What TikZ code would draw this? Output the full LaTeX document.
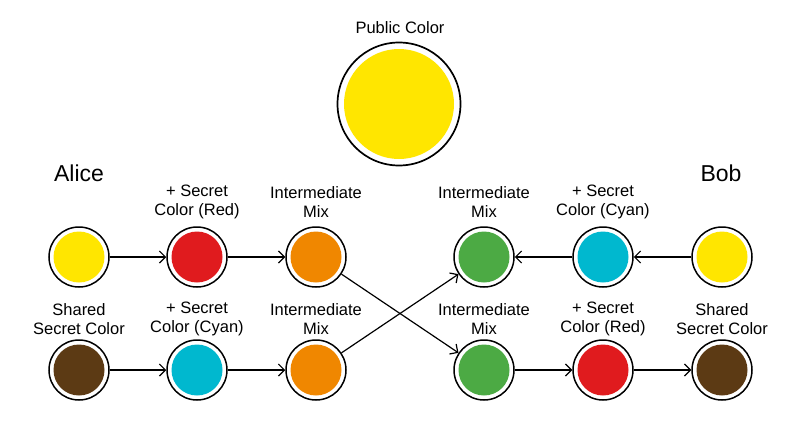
\documentclass[tikz,border=0pt]{standalone}
\usepackage{fontspec}
\setmainfont{Liberation Sans}
\usetikzlibrary{arrows.meta}
\definecolor{cyel}{HTML}{FFE600}
\definecolor{cred}{HTML}{E01B1E}
\definecolor{corg}{HTML}{F08700}
\definecolor{cgrn}{HTML}{4CAA44}
\definecolor{ccyn}{HTML}{00B8CF}
\definecolor{cbrn}{HTML}{5C3A14}
\begin{document}
\begin{tikzpicture}[x=1pt,y=-1pt,
  disc/.style={circle, draw=black, fill=white, line width=1.5pt, minimum size=60pt, inner sep=0pt,
    path picture={\fill[#1] (path picture bounding box.center) circle (25.5pt);}},
  bigdisc/.style={circle, draw=black, fill=white, line width=1.7pt, minimum size=123pt, inner sep=0pt,
    path picture={\fill[#1] (path picture bounding box.center) circle (55pt);}},
  lbl/.style={align=center, font=\fontsize{16.5}{18.5}\selectfont, inner sep=0pt},
  who/.style={font=\fontsize{23}{25}\selectfont, inner sep=0pt},
  conn/.style={line width=1.2pt, -{Straight Barb[length=6pt,width=12pt,line width=1.2pt]}}]
\useasboundingbox (0,0) rectangle (800,447);
% public
\node[lbl] (tpub) at (400,28) {Public Color};
\node[bigdisc=cyel] (pub) at (399,104) {};
% names
\node[who] (alice) at (79,173) {Alice};
\node[who] (bob) at (721,173) {Bob};
% row 1
\node[disc=cyel] (a1) at (79,257) {};
\node[disc=cred] (a2) at (197,257) {};
\node[disc=corg] (a3) at (316,257) {};
\node[disc=cgrn] (b3) at (484,257) {};
\node[disc=ccyn] (b2) at (603,257) {};
\node[disc=cyel] (b1) at (722,257) {};
% row 2
\node[disc=cbrn] (a6) at (79,370) {};
\node[disc=ccyn] (a5) at (197,370) {};
\node[disc=corg] (a4) at (316,370) {};
\node[disc=cgrn] (b4) at (484,370) {};
\node[disc=cred] (b5) at (603,370) {};
\node[disc=cbrn] (b6) at (722,370) {};
% labels row 1
\node[lbl] (la2) at (197,202) {+ Secret\\Color (Red)};
\node[lbl] (la3) at (316,202) {Intermediate\\Mix};
\node[lbl] (lb3) at (484,202) {Intermediate\\Mix};
\node[lbl] (lb2) at (603,202) {+ Secret\\Color (Cyan)};
% labels row 2
\node[lbl] (la6) at (79,319) {Shared\\Secret Color};
\node[lbl] (la5) at (197,319) {+ Secret\\Color (Cyan)};
\node[lbl] (la4) at (316,319) {Intermediate\\Mix};
\node[lbl] (lb4) at (484,319) {Intermediate\\Mix};
\node[lbl] (lb5) at (603,319) {+ Secret\\Color (Red)};
\node[lbl] (lb6) at (722,319) {Shared\\Secret Color};
% connectors
\draw[conn] (a1) -- (a2);
\draw[conn] (a2) -- (a3);
\draw[conn] (b1) -- (b2);
\draw[conn] (b2) -- (b3);
\draw[conn] (a6) -- (a5);
\draw[conn] (a5) -- (a4);
\draw[conn] (b4) -- (b5);
\draw[conn] (b5) -- (b6);
\draw[conn] (a3) -- (b4);
\draw[conn] (a4) -- (b3);
\end{tikzpicture}
\end{document}
